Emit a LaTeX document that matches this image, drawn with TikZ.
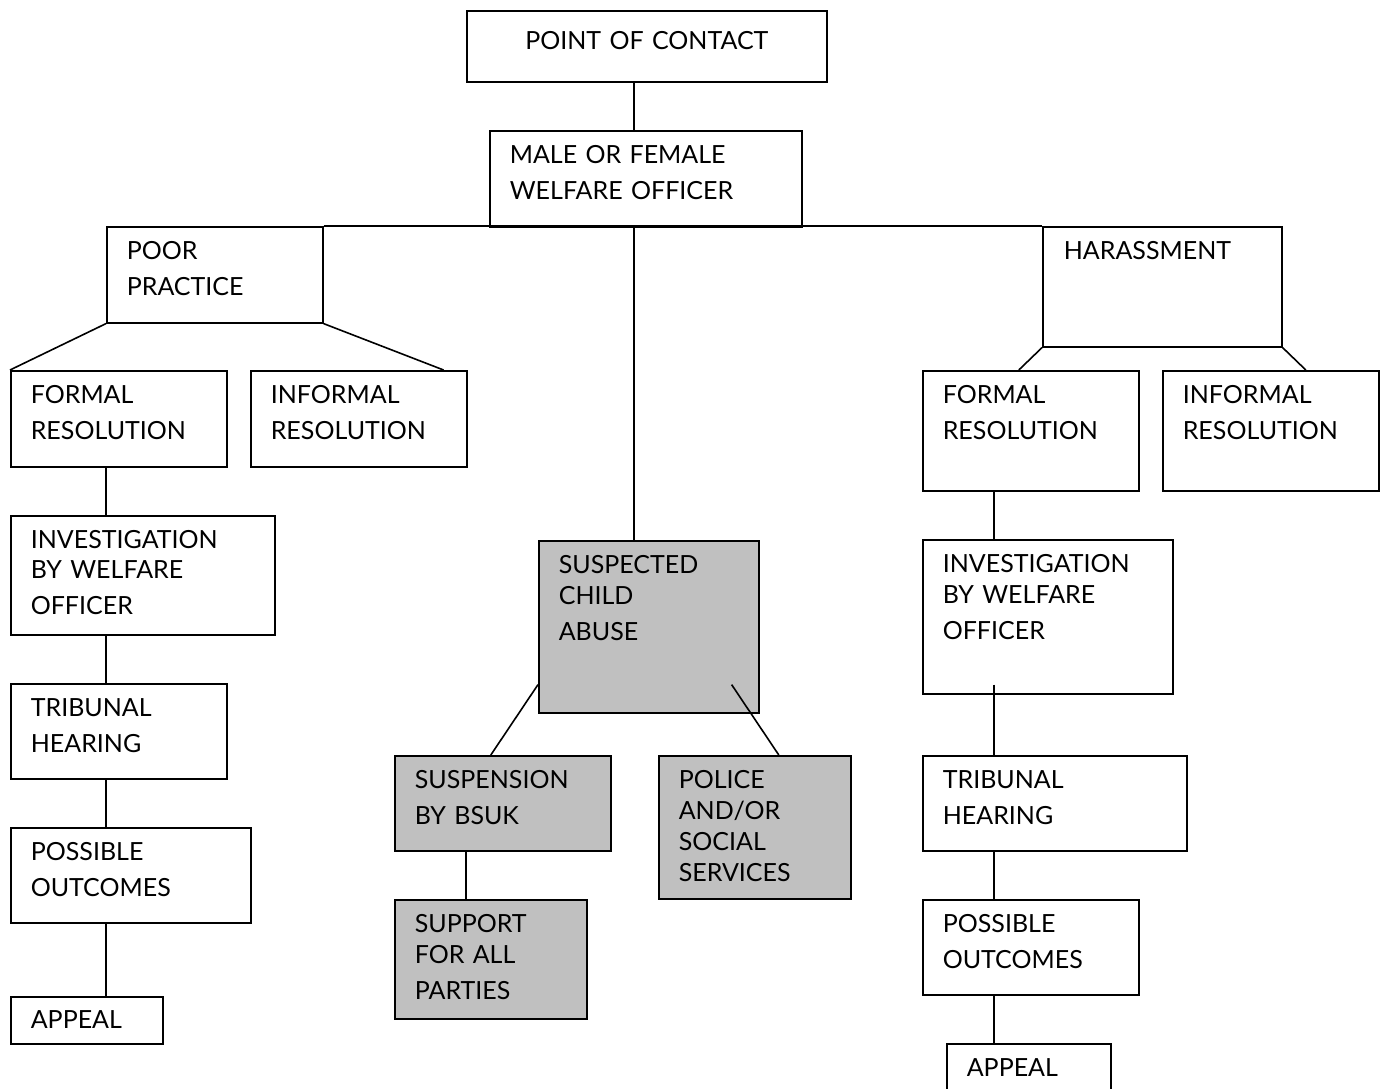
\documentclass[tikz,border=0pt]{standalone}
\usepackage{fontspec}
\setmainfont{Lato}
\definecolor{boxgray}{RGB}{192,192,192}
\tikzset{
  cell/.style 2 args={draw, line width=0.8pt, anchor=north west, inner xsep=10pt, inner ysep=0pt,
    text width=#1*0.5pt-20pt, align=left, text height=16.5pt, text depth=#2*0.5pt-16.5pt},
  shaded/.style={fill=boxgray}
}
\begin{document}
\begin{tikzpicture}[x=0.5pt, y=-0.5pt, line width=0.8pt, font=\fontsize{12.5pt}{18pt}\selectfont]

\clip (0,0) rectangle (1386,1088);

% top of the tree
\node[cell={360}{71}, align=center, text height=19.5pt, text depth=71*0.5pt-19.5pt] (poc) at (466,10) {POINT OF CONTACT};
\node[cell={312}{96}] (wo) at (489,130) {MALE OR FEMALE\\WELFARE OFFICER};

% poor practice branch
\node[cell={216}{96}] (poor) at (106,226) {POOR\\PRACTICE};
\node[cell={216}{96}] (lformal) at (10,370) {FORMAL\\RESOLUTION};
\node[cell={216}{96}] (linformal) at (250,370) {INFORMAL\\RESOLUTION};
\node[cell={264}{119}] (linv) at (10,515) {INVESTIGATION\\[-3pt]BY WELFARE\\OFFICER};
\node[cell={216}{95}] (ltrib) at (10,683) {TRIBUNAL\\HEARING};
\node[cell={240}{95}] (lposs) at (10,827) {POSSIBLE\\OUTCOMES};
\node[cell={152}{47}, text depth=47*0.5pt-16pt, text height=16pt] (lappeal) at (10,996) {APPEAL};

% child abuse branch
\node[cell={220}{172}, shaded] (abuse) at (538,540) {SUSPECTED\\[-2.5pt]CHILD\\ABUSE};
\node[cell={216}{95}, shaded] (susp) at (394,755) {SUSPENSION\\BY BSUK};
\node[cell={192}{143}, shaded, font=\fontsize{12.5pt}{15.5pt}\selectfont] (police) at (658,755) {POLICE\\AND/OR\\SOCIAL\\SERVICES};
\node[cell={192}{119}, shaded] (support) at (394,899) {SUPPORT\\[-2.5pt]FOR ALL\\PARTIES};

% harassment branch
\node[cell={239}{120}] (harass) at (1042,226) {\hspace*{0.5pt}HARASSMENT};
\node[cell={216}{120}] (rformal) at (922,370) {FORMAL\\RESOLUTION};
\node[cell={216}{120}] (rinformal) at (1162,370) {INFORMAL\\RESOLUTION};
\node[cell={250}{154}] (rinv) at (922,539) {INVESTIGATION\\[-2.5pt]BY WELFARE\\OFFICER};
\node[cell={264}{95}] (rtrib) at (922,755) {TRIBUNAL\\HEARING};
\node[cell={216}{95}] (rposs) at (922,899) {POSSIBLE\\OUTCOMES};
\node[cell={164}{80}] (rappeal) at (946,1043) {APPEAL};

% spines
\coordinate (spine) at (634,0);
\coordinate (lspine) at (106,0);
\coordinate (rspine) at (994,0);
\coordinate (mspine) at (466,0);

% connectors
\draw (poc.south -| spine) -- (wo.north -| spine);
\draw (wo.south -| spine) -- (abuse.north -| spine);
\draw (poor.north east) -- (harass.north west);
\draw (poor.south west) -- (lformal.north west);
\draw (poor.south east) -- ([xshift=-12pt]linformal.north east);
\draw (harass.south west) -- ([xshift=-6pt]rformal.north);
\draw (harass.south east) -- ([xshift=17.5pt]rinformal.north);
\foreach \a/\b in {lformal/linv, linv/ltrib, ltrib/lposs, lposs/lappeal}
  \draw (\a.south -| lspine) -- (\b.north -| lspine);
\foreach \a/\b in {rformal/rinv, rtrib/rposs, rposs/rappeal}
  \draw (\a.south -| rspine) -- (\b.north -| rspine);
\draw ([yshift=5pt]rinv.south -| rspine) -- (rtrib.north -| rspine);
\draw ([yshift=14.5pt]abuse.south west) -- ([xshift=-6pt]susp.north);
\draw ([shift={(-14pt,14.5pt)}]abuse.south east) -- ([xshift=12pt]police.north);
\draw (susp.south -| mspine) -- (support.north -| mspine);

\end{tikzpicture}
\end{document}
